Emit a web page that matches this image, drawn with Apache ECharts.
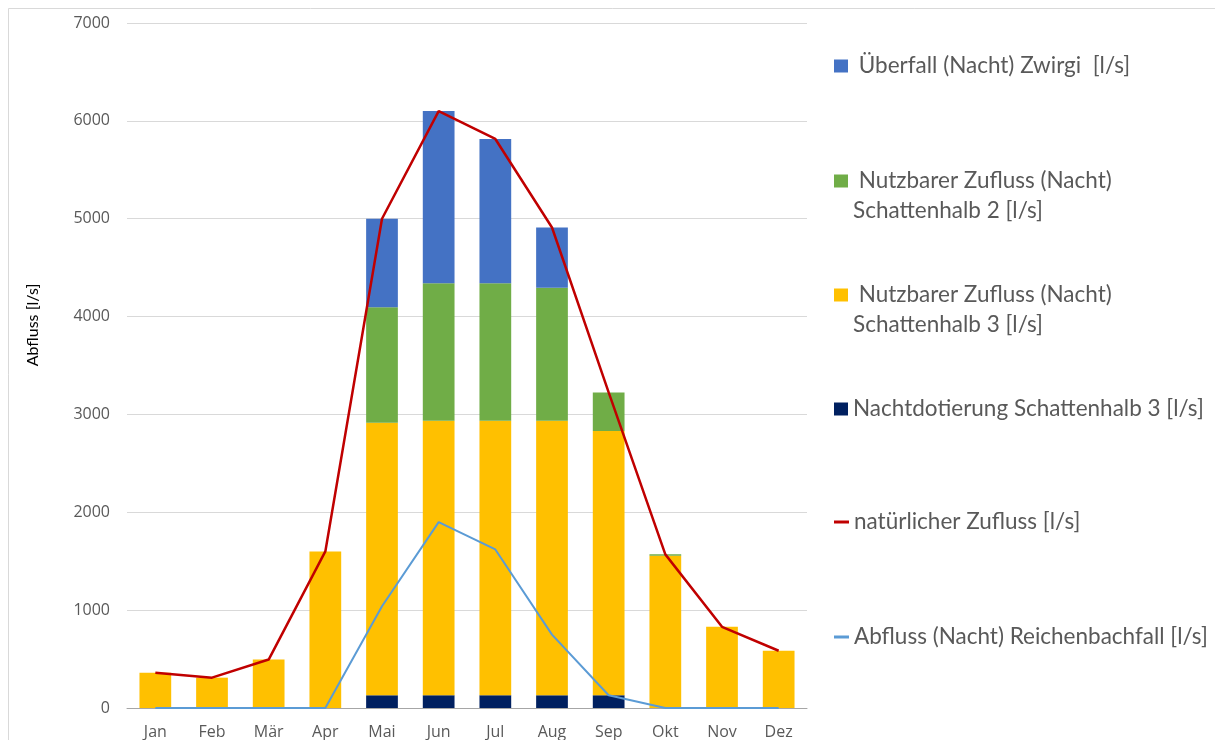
<!DOCTYPE html>
<html>
<head>
<meta charset="utf-8">
<script src="https://cdn.jsdelivr.net/npm/echarts@6/dist/echarts.min.js"></script>
<style>
  html, body { margin: 0; padding: 0; background: #fff; }
  #chart { width: 1215px; height: 740px; }
</style>
</head>
<body>
<div id="chart"></div>
<script>
// Monatliche Abflüsse Reichenbach (Nacht), Werte in l/s
const months = ['Jan', 'Feb', 'Mär', 'Apr', 'Mai', 'Jun', 'Jul', 'Aug', 'Sep', 'Okt', 'Nov', 'Dez'];
const yTicks = [0, 1000, 2000, 3000, 4000, 5000, 6000, 7000];

const nachtdotierung = [0, 0, 0, 0, 130, 130, 130, 130, 130, 0, 0, 0];
const schattenhalb3  = [360, 310, 495, 1600, 2785, 2805, 2805, 2805, 2700, 1555, 830, 585];
const schattenhalb2  = [0, 0, 0, 0, 1180, 1405, 1405, 1360, 395, 15, 0, 0];
const ueberfall      = [0, 0, 0, 0, 905, 1760, 1475, 615, 0, 0, 0, 0];
const natuerlich     = [360, 310, 495, 1600, 5000, 6100, 5815, 4910, 3225, 1570, 830, 585];
const reichenbach    = [0, 0, 0, 0, 1040, 1900, 1620, 750, 130, 0, 0, 0];

const names = {
  ueberfall: ' Überfall (Nacht) Zwirgi  [l/s]',
  sh2: ' Nutzbarer Zufluss (Nacht)\nSchattenhalb 2 [l/s]',
  sh3: ' Nutzbarer Zufluss (Nacht)\nSchattenhalb 3 [l/s]',
  dot: 'Nachtdotierung Schattenhalb 3 [l/s]',
  nat: 'natürlicher Zufluss [l/s]',
  abf: 'Abfluss (Nacht) Reichenbachfall [l/s]'
};

const FONT = 'Lato, "Open Sans", sans-serif';
const AXIS_FONT = '"Open Sans", sans-serif';
const LEG_FS = 22.5;
const LEG_LH = 30;

// One legend per entry so each can sit at its own height; two-line entries get
// a blank first line so the marker lines up with the first text line.
function legendAt(name, centerY, isLine, twoLines) {
  const h = twoLines ? LEG_LH * 3 : LEG_LH;
  return {
    data: [name],
    left: 834,
    top: centerY - h / 2,
    padding: 0,
    orient: 'vertical',
    selectedMode: false,
    icon: 'rect',
    itemWidth: isLine ? 15 : 14,
    itemHeight: isLine ? 3 : 13,
    itemGap: 0,
    formatter: twoLines ? (n => ' \n' + n) : (n => n),
    textStyle: { color: '#595959', fontSize: LEG_FS, fontFamily: FONT, lineHeight: LEG_LH }
  };
}

const chart = echarts.init(document.getElementById('chart'), null, { renderer: 'canvas' });

const barBase = { type: 'bar', stack: 'abfluss', barWidth: '56%', emphasis: { disabled: true } };

chart.setOption({
  animation: false,
  backgroundColor: '#ffffff',
  grid: { left: 127, right: 408, top: 23, bottom: 32, containLabel: false },
  legend: [
    legendAt(names.ueberfall, 66, false, false),
    legendAt(names.sh2, 181, false, true),
    legendAt(names.sh3, 295, false, true),
    legendAt(names.dot, 409, false, false),
    legendAt(names.nat, 522, true, false),
    legendAt(names.abf, 637, true, false)
  ],
  xAxis: {
    type: 'category',
    data: months,
    axisLine: { show: true, lineStyle: { color: '#a6a6a6', width: 1 } },
    axisTick: { show: false },
    axisLabel: { color: '#595959', fontSize: 16, fontFamily: AXIS_FONT, margin: 16 }
  },
  yAxis: {
    type: 'value',
    min: yTicks[0],
    max: yTicks[yTicks.length - 1],
    interval: 1000,
    axisLine: { show: false },
    axisTick: { show: false },
    axisLabel: { color: '#595959', fontSize: 16, fontFamily: AXIS_FONT, margin: 17, formatter: v => String(v) },
    splitLine: { lineStyle: { color: '#d9d9d9', width: 1 } }
  },
  graphic: [
    {
      type: 'rect',
      shape: { x: 8.5, y: 8.5, width: 1220, height: 760 },
      style: { fill: 'none', stroke: '#d9d9d9', lineWidth: 1 },
      silent: true
    },
    {
      type: 'text',
      x: 33,
      y: 325,
      rotation: Math.PI / 2,
      style: {
        text: 'Abfluss [l/s]',
        fill: '#000000',
        fontSize: 16,
        fontFamily: FONT,
        align: 'center',
        verticalAlign: 'middle'
      },
      silent: true
    }
  ],
  series: [
    Object.assign({}, barBase, { name: names.dot, data: nachtdotierung, itemStyle: { color: '#002060' } }),
    Object.assign({}, barBase, { name: names.sh3, data: schattenhalb3, itemStyle: { color: '#FFC000' } }),
    Object.assign({}, barBase, { name: names.sh2, data: schattenhalb2, itemStyle: { color: '#70AD47' } }),
    Object.assign({}, barBase, { name: names.ueberfall, data: ueberfall, itemStyle: { color: '#4472C4' } }),
    {
      type: 'line', name: names.nat, data: natuerlich,
      symbol: 'none', lineStyle: { color: '#C00000', width: 2.5 }, itemStyle: { color: '#C00000' },
      emphasis: { disabled: true }, z: 3
    },
    {
      type: 'line', name: names.abf, data: reichenbach,
      symbol: 'none', lineStyle: { color: '#5B9BD5', width: 2 }, itemStyle: { color: '#5B9BD5' },
      emphasis: { disabled: true }, z: 4
    }
  ]
});
</script>
</body>
</html>
